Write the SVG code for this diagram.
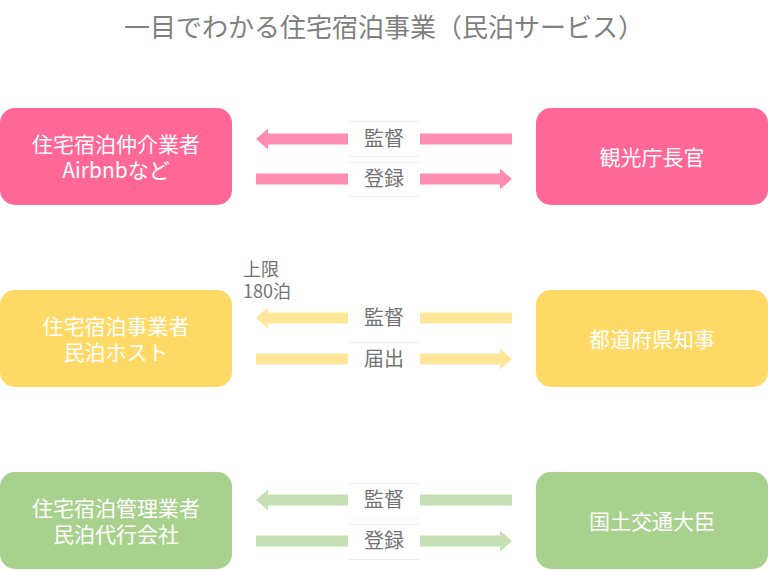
<svg xmlns="http://www.w3.org/2000/svg" width="768" height="570" viewBox="0 0 768 570">
<style>
text{font-family:"Noto Sans CJK JP","Noto Sans",sans-serif;}
.title{font-size:26px;fill:#808080;text-anchor:middle;}
.bt{font-size:21px;fill:#ffffff;text-anchor:middle;}
.lb{font-size:20px;fill:#737373;text-anchor:middle;}
.note{font-size:18px;fill:#737373;}
.pink{fill:#ff6797;}
.pinka{fill:#ff8db1;}
.yel{fill:#ffd966;}
.yela{fill:#ffe699;}
.grn{fill:#a9d18e;}
.grna{fill:#c5e0b4;}
.lbox{fill:#ffffff;}
.rule{stroke:#efefef;stroke-width:1;}
</style>
<defs>
<path id="arrL" d="M256 0 L268 -10.5 L268 -5.5 L512 -5.5 L512 5.5 L268 5.5 L268 10.5 Z"/>
<path id="arrR" d="M512 0 L500 -10.5 L500 -5.5 L256 -5.5 L256 5.5 L500 5.5 L500 10.5 Z"/>
</defs>
<rect width="768" height="570" fill="#ffffff"/>
<text class="title" x="384" y="37">一目でわかる住宅宿泊事業（民泊サービス）</text>

<g id="node-intermediary">
<rect class="pink" x="0" y="108" width="232" height="97" rx="15"/>
<text class="bt" x="116" y="152">住宅宿泊仲介業者</text>
<text class="bt" x="116" y="178">Airbnbなど</text>
</g>
<g id="node-tourism">
<rect class="pink" x="536" y="108" width="232" height="97" rx="15"/>
<text class="bt" x="652" y="165">観光庁長官</text>
</g>
<g id="node-host">
<rect class="yel" x="0" y="290" width="232" height="97" rx="15"/>
<text class="bt" x="116" y="334">住宅宿泊事業者</text>
<text class="bt" x="116" y="360">民泊ホスト</text>
</g>
<g id="node-governor">
<rect class="yel" x="536" y="290" width="232" height="97" rx="15"/>
<text class="bt" x="652" y="347">都道府県知事</text>
</g>
<g id="node-manager">
<rect class="grn" x="0" y="472" width="232" height="97" rx="15"/>
<text class="bt" x="116" y="516">住宅宿泊管理業者</text>
<text class="bt" x="116" y="542">民泊代行会社</text>
</g>
<g id="node-minister">
<rect class="grn" x="536" y="472" width="232" height="97" rx="15"/>
<text class="bt" x="652" y="529">国土交通大臣</text>
</g>

<g id="connectors">
<use href="#arrL" class="pinka" transform="translate(0,139)"/>
<use href="#arrR" class="pinka" transform="translate(0,179)"/>
<use href="#arrL" class="yela" transform="translate(0,318)"/>
<use href="#arrR" class="yela" transform="translate(0,359)"/>
<use href="#arrL" class="grna" transform="translate(0,500)"/>
<use href="#arrR" class="grna" transform="translate(0,541)"/>

<rect class="lbox" x="348" y="121" width="72" height="76"/>
<line class="rule" x1="348" y1="121.5" x2="420" y2="121.5"/>
<line class="rule" x1="348" y1="156.5" x2="420" y2="156.5"/>
<line class="rule" x1="348" y1="162.5" x2="420" y2="162.5"/>
<line class="rule" x1="348" y1="196.5" x2="420" y2="196.5"/>
<text class="lb" x="384" y="146">監督</text>
<text class="lb" x="384" y="186">登録</text>

<rect class="lbox" x="348" y="300" width="72" height="78"/>
<line class="rule" x1="348" y1="342.5" x2="420" y2="342.5"/>
<text class="lb" x="384" y="325">監督</text>
<text class="lb" x="384" y="366">届出</text>

<rect class="lbox" x="348" y="483" width="72" height="76"/>
<line class="rule" x1="348" y1="483.5" x2="420" y2="483.5"/>
<line class="rule" x1="348" y1="518.5" x2="420" y2="518.5" stroke-dasharray="2 2"/>
<line class="rule" x1="348" y1="524.5" x2="420" y2="524.5"/>
<line class="rule" x1="348" y1="559.5" x2="420" y2="559.5"/>
<text class="lb" x="384" y="507">監督</text>
<text class="lb" x="384" y="548">登録</text>
</g>

<text class="note" x="243" y="276">上限</text>
<text class="note" x="243" y="298">180泊</text>
</svg>
